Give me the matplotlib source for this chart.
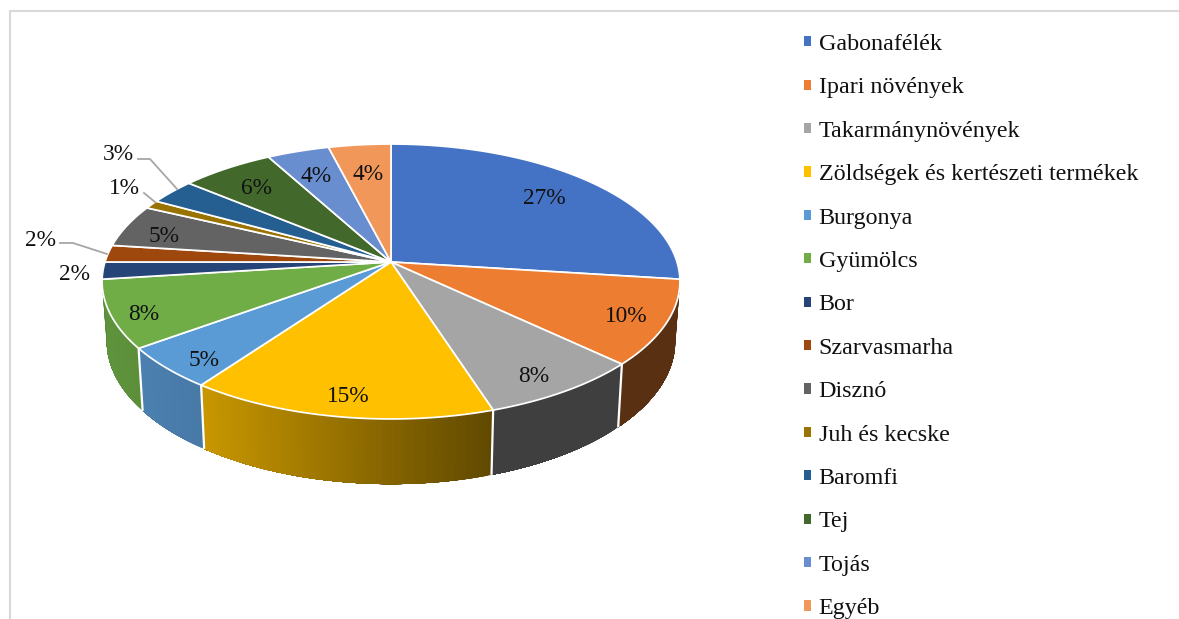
import numpy as np
import matplotlib
matplotlib.use("Agg")
import matplotlib.pyplot as plt
from matplotlib.patches import Polygon, Patch

categories = ["Gabonafélék", "Ipari növények", "Takarmánynövények",
              "Zöldségek és kertészeti termékek", "Burgonya", "Gyümölcs", "Bor",
              "Szarvasmarha", "Disznó", "Juh és kecske", "Baromfi", "Tej", "Tojás", "Egyéb"]
values = [27, 10, 8, 15, 5, 8, 2, 2, 5, 1, 3, 6, 4, 4]
colors = ["#4472C4", "#ED7D31", "#A5A5A5", "#FFC000", "#5B9BD5", "#70AD47", "#264478",
          "#9E480E", "#636363", "#997300", "#255E91", "#43682B", "#698ED0", "#F1975A"]
label_xy = [(544, 199), (626, 317), (534, 377), (348, 397), (204, 360), (144, 314), (75, 275),
            (40, 240), (164, 236), (124, 189), (118, 155), (256, 189), (316, 177), (368, 174)]
leaders = {7: [(60, 243), (73, 243), (107, 254)],
           9: [(144, 193), (155, 202)],
           10: [(138, 159), (150, 159), (177, 189)]}

plt.rcParams["font.family"] = ["Liberation Serif", "DejaVu Serif"]
W, H = 1179, 619
fig = plt.figure(figsize=(W / 100, H / 100), dpi=100)
ax = fig.add_axes([0, 0, 1, 1])
ax.set_xlim(0, W)
ax.set_ylim(H, 0)
ax.axis("off")

CX, CY, K = 391.0, 262.0, 0.1418
AX_TOP, AY_TOP = 286.0, 134.7
AX_BOT, AY_BOT, DROP = 281.4, 140.0, 59.0


def project(theta_deg, ax_scale, ay_scale, drop=0.0):
    t = np.radians(theta_deg)
    X, Y = np.sin(t), np.cos(t)
    w = 1 + K * Y
    return CX + ax_scale * X / w, CY + drop - ay_scale * Y / w


def top(theta):
    return project(theta, AX_TOP, AY_TOP)


def bottom(theta):
    return project(theta, AX_BOT, AY_BOT, DROP)


def shade(x):
    return np.interp(x, [102, 205, 490, 680], [0.85, 0.78, 0.38, 0.38])


edges = np.concatenate([[0], np.cumsum(values)]) / np.sum(values) * 360.0

# Side walls: each step paints from its angle to the slice end, so no seams show
for i, col in enumerate(colors):
    a0, a1 = max(edges[i], 97), min(edges[i + 1], 263)
    if a1 <= a0:
        continue
    rgb = np.array(matplotlib.colors.to_rgb(col))
    steps = np.linspace(a0, a1, max(3, int((a1 - a0) * 1.5) + 1))
    for s0, s1 in zip(steps[:-1], steps[1:]):
        arc = np.linspace(s0, a1, max(2, int((a1 - s0) * 2) + 1))
        xt, yt = top(arc)
        xb, yb = bottom(arc)
        c = rgb * shade(top((s0 + s1) / 2)[0])
        pts = np.column_stack([np.r_[xt, xb[::-1]], np.r_[yt, yb[::-1]]])
        ax.add_patch(Polygon(pts, closed=True, facecolor=c, edgecolor="none", zorder=2))

# White separators on the wall
for a in edges[1:]:
    if 100 < a < 262:
        xt, yt = top(a)
        xb, yb = bottom(a)
        ax.plot([xt, xb], [yt, yb], color="white", lw=1.6, zorder=3, solid_capstyle="butt")

# Top face
for i, col in enumerate(colors):
    th = np.linspace(edges[i], edges[i + 1], max(4, int(values[i] * 6)))
    px, py = top(th)
    pts = np.column_stack([np.r_[CX, px], np.r_[CY, py]])
    ax.add_patch(Polygon(pts, closed=True, facecolor=col, edgecolor="white", lw=1.25,
                         joinstyle="miter", zorder=4))

# Data labels and leader lines
for i, v in enumerate(values):
    ax.text(label_xy[i][0], label_xy[i][1], f"{v}%", fontsize=16.8, color="#111111",
            ha="center", va="center", zorder=6)
for pts in leaders.values():
    xs, ys = zip(*pts)
    ax.plot(xs, ys, color="#A6A6A6", lw=1.3, zorder=5)

# Legend
handles = [Patch(facecolor=c, edgecolor="none", label=n) for c, n in zip(colors, categories)]
ax.legend(handles=handles, loc="upper left", bbox_to_anchor=(804 / W, 1 - 34 / H),
          bbox_transform=fig.transFigure, frameon=False, fontsize=17.25, ncol=1,
          handlelength=0.28, handleheight=0.28, handletextpad=0.33,
          labelspacing=0.935, borderpad=0, borderaxespad=0, labelcolor="#111111")

# Chart frame (only the top and left edges are visible in the crop)
ax.plot([10, 10, W], [H, 11, 11], color="#D9D9D9", lw=1.5, zorder=1)

fig.savefig("out.png", dpi=100)
